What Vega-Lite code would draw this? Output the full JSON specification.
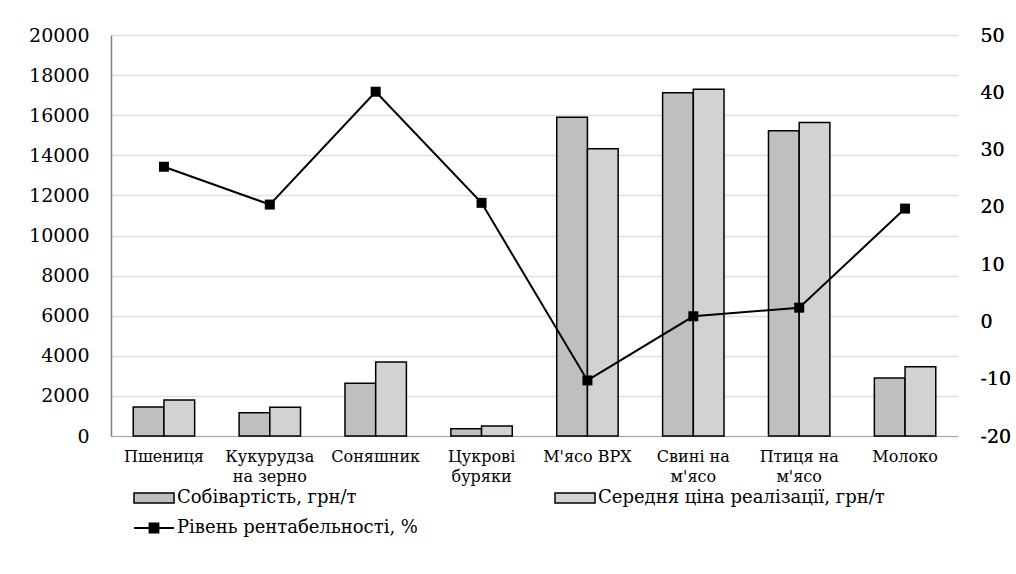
{
  "$schema": "https://vega.github.io/schema/vega-lite/v6.json",
  "width": 847,
  "height": 401,
  "autosize": "none",
  "padding": {"left": 111, "top": 35, "right": 58, "bottom": 138},
  "background": "white",
  "config": {
    "font": "DejaVu Serif",
    "view": {"stroke": null},
    "axis": {"labelFont": "DejaVu Serif"},
    "legend": {"labelFont": "DejaVu Serif"}
  },
  "datasets": {
    "bars": [
      {"cat": "Пшениця", "series": "Собівартість, грн/т", "value": 1450},
      {"cat": "Пшениця", "series": "Середня ціна реалізації,  грн/т", "value": 1800},
      {"cat": "Кукурудза|на зерно", "series": "Собівартість, грн/т", "value": 1160},
      {"cat": "Кукурудза|на зерно", "series": "Середня ціна реалізації,  грн/т", "value": 1430},
      {"cat": "Соняшник", "series": "Собівартість, грн/т", "value": 2630},
      {"cat": "Соняшник", "series": "Середня ціна реалізації,  грн/т", "value": 3690},
      {"cat": "Цукрові|буряки", "series": "Собівартість, грн/т", "value": 365},
      {"cat": "Цукрові|буряки", "series": "Середня ціна реалізації,  грн/т", "value": 500},
      {"cat": "М'ясо ВРХ", "series": "Собівартість, грн/т", "value": 15900},
      {"cat": "М'ясо ВРХ", "series": "Середня ціна реалізації,  грн/т", "value": 14330},
      {"cat": "Свині на|м'ясо", "series": "Собівартість, грн/т", "value": 17120},
      {"cat": "Свині на|м'ясо", "series": "Середня ціна реалізації,  грн/т", "value": 17290},
      {"cat": "Птиця на|м'ясо", "series": "Собівартість, грн/т", "value": 15230},
      {"cat": "Птиця на|м'ясо", "series": "Середня ціна реалізації,  грн/т", "value": 15630},
      {"cat": "Молоко", "series": "Собівартість, грн/т", "value": 2890},
      {"cat": "Молоко", "series": "Середня ціна реалізації,  грн/т", "value": 3460}
    ],
    "line": [
      {"cat": "Пшениця", "rent": 27.0},
      {"cat": "Кукурудза|на зерно", "rent": 20.4},
      {"cat": "Соняшник", "rent": 40.1},
      {"cat": "Цукрові|буряки", "rent": 20.7},
      {"cat": "М'ясо ВРХ", "rent": -10.3},
      {"cat": "Свині на|м'ясо", "rent": 0.9},
      {"cat": "Птиця на|м'ясо", "rent": 2.4},
      {"cat": "Молоко", "rent": 19.7}
    ]
  },
  "layer": [
    {
      "data": {"name": "bars"},
      "mark": {"type": "bar", "stroke": "black", "strokeWidth": 1.5},
      "encoding": {
        "x": {
          "field": "cat", "type": "nominal", "sort": null,
          "scale": {"domain": ["Пшениця", "Кукурудза|на зерно", "Соняшник", "Цукрові|буряки", "М'ясо ВРХ", "Свині на|м'ясо", "Птиця на|м'ясо", "Молоко"], "paddingInner": 0.42, "paddingOuter": 0.21},
          "axis": {"title": null, "labelExpr": "split(datum.value, '|')", "labelAngle": 0, "ticks": false, "domainColor": "#a6a6a6", "domainWidth": 1, "labelFont": "DejaVu Serif", "labelFontSize": 16, "labelColor": "black", "labelPadding": 12, "labelLineHeight": 20, "labelBaseline": "top"}
        },
        "xOffset": {"field": "series", "type": "nominal", "sort": null, "scale": {"paddingInner": 0, "paddingOuter": 0}},
        "y": {
          "field": "value", "type": "quantitative",
          "scale": {"domain": [0, 20000], "nice": false},
          "axis": {"title": null, "values": [0, 2000, 4000, 6000, 8000, 10000, 12000, 14000, 16000, 18000, 20000], "grid": true, "gridColor": "#e0e0e0", "gridWidth": 1.5, "ticks": false, "domain": true, "domainColor": "#808080", "domainWidth": 1.5, "labelFont": "DejaVu Serif", "labelFontSize": 19, "labelPadding": 22, "labelColor": "black", "format": "d"}
        },
        "fill": {
          "field": "series", "type": "nominal", "sort": null,
          "scale": {"domain": ["Собівартість, грн/т", "Середня ціна реалізації,  грн/т"], "range": ["#bfbfbf", "#d2d2d2"]},
          "legend": {"title": null, "orient": "none", "legendX": 22, "legendY": 442, "direction": "horizontal", "columns": 2, "columnPadding": 195, "symbolType": "M-1,-0.25H1V0.25H-1Z", "symbolSize": 1600, "symbolStrokeColor": "black", "symbolStrokeWidth": 1.5, "symbolOpacity": 1, "labelFont": "DejaVu Serif", "labelFontSize": 18, "labelColor": "black", "labelOffset": 2, "labelLimit": 500}
        }
      }
    },
    {
      "data": {"name": "line"},
      "mark": {"type": "line", "strokeWidth": 2},
      "encoding": {
        "x": {
          "field": "cat", "type": "nominal", "sort": null,
          "axis": {"title": null, "labelExpr": "split(datum.value, '|')", "labelAngle": 0, "ticks": false, "domainColor": "#a6a6a6", "domainWidth": 1, "labelFont": "DejaVu Serif", "labelFontSize": 16, "labelColor": "black", "labelPadding": 12, "labelLineHeight": 20, "labelBaseline": "top"}
        },
        "y": {
          "field": "rent", "type": "quantitative",
          "scale": {"domain": [-20, 50], "nice": false},
          "axis": {"orient": "right", "title": null, "values": [-20, -10, 0, 10, 20, 30, 40, 50], "labelExpr": "replace(datum.label, '−', '-')", "grid": false, "ticks": false, "domain": false, "labelFont": "DejaVu Serif", "labelFontSize": 19, "labelPadding": 22, "labelColor": "black"}
        },
        "stroke": {
          "datum": "Рівень рентабельності, %",
          "scale": {"range": ["black"]},
          "legend": {"title": null, "orient": "none", "legendX": 22, "legendY": 472, "symbolType": "M-1,0H1M-0.22,-0.22H0.22V0.22H-0.22Z", "symbolSize": 1600, "symbolStrokeColor": "black", "symbolFillColor": "black", "symbolStrokeWidth": 2, "labelFont": "DejaVu Serif", "labelFontSize": 18, "labelColor": "black", "labelOffset": 2, "labelLimit": 500}
        }
      }
    },
    {
      "data": {"name": "line"},
      "mark": {"type": "point", "shape": "square", "filled": true, "size": 100, "color": "black", "opacity": 1},
      "encoding": {
        "x": {
          "field": "cat", "type": "nominal", "sort": null,
          "axis": {"title": null, "labelExpr": "split(datum.value, '|')", "labelAngle": 0, "ticks": false, "domainColor": "#a6a6a6", "domainWidth": 1, "labelFont": "DejaVu Serif", "labelFontSize": 16, "labelColor": "black", "labelPadding": 12, "labelLineHeight": 20, "labelBaseline": "top"}
        },
        "y": {
          "field": "rent", "type": "quantitative",
          "scale": {"domain": [-20, 50], "nice": false},
          "axis": {"orient": "right", "title": null, "values": [-20, -10, 0, 10, 20, 30, 40, 50], "labelExpr": "replace(datum.label, '−', '-')", "grid": false, "ticks": false, "domain": false, "labelFont": "DejaVu Serif", "labelFontSize": 19, "labelPadding": 22, "labelColor": "black"}
        }
      }
    }
  ],
  "resolve": {"scale": {"y": "independent"}}
}
